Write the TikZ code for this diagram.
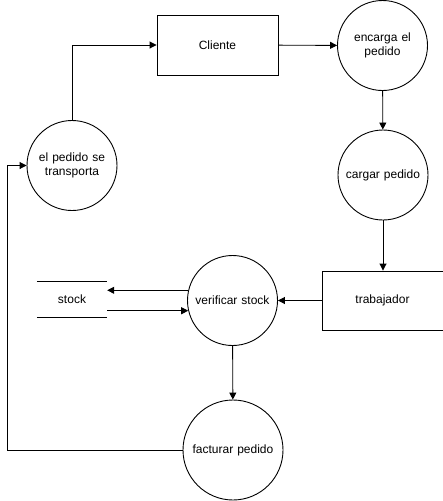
\documentclass[tikz,border=0pt]{standalone}
\usepackage{fontspec}
\setmainfont{Liberation Sans}
\usetikzlibrary{shapes.geometric, arrows.meta}
\tikzstyle{entity} = [rectangle,
	minimum width=121pt,
	minimum height=60pt,
	text centered,
	line width=0.9pt,
	draw=black
	]
\tikzstyle{process} = [circle,
	minimum size=90pt,
	inner sep=0pt,
	text width=84pt,
	align=center,
	line width=0.9pt,
	draw=black
	]
\tikzstyle{store} = [rectangle,
	minimum width=70pt,
	minimum height=35pt,
	text centered
	]
\tikzstyle{arrow} = [line width=0.9pt,-{Triangle[length=7pt,width=7pt]}]

\begin{document}
\begin{tikzpicture}[x=1pt, y=1pt, font=\fontsize{12}{14}\selectfont]
\useasboundingbox (0,0) rectangle (443,-501);

\node (cliente) [entity] at (217.5,-45) {Cliente};
\node (encarga) [process] at (382.5,-45.5) {encarga el\\pedido};
\node (cargar) [process] at (383,-175) {cargar pedido};
\node (trabajador) [entity, minimum height=59pt] at (382.5,-300.5) {trabajador};
\node (verificar) [process] at (232.5,-300.5) {verificar stock};
\node (facturar) [process, minimum size=100pt, text width=94pt] at (233,-450) {facturar pedido};
\node (transporta) [process] at (72,-165.5) {el pedido se\\transporta};
\node (stock) [store] at (72,-299.5) {stock};
\coordinate (corner) at (7,-450);

% almacen de datos
\draw [line width=0.9pt] (stock.north west) -- (stock.north east);
\draw [line width=0.9pt] (stock.south west) -- (stock.south east);

\draw [arrow] (transporta.north) |- (cliente.west);
\draw [arrow] (cliente) -- (encarga);
\draw [arrow] (encarga) -- (cargar);
\draw [arrow] (cargar.south) -- (cargar.south |- trabajador.north);
\draw [arrow] (trabajador) -- (verificar);
\draw [arrow] (verificar.167) -- (verificar.167 -| stock.east);
\draw [arrow] (verificar.193 -| stock.east) -- (verificar.193);
\draw [arrow] (verificar) -- (facturar);
\draw [arrow] (facturar.west) -- (corner) |- (transporta.west);

\end{tikzpicture}
\end{document}
